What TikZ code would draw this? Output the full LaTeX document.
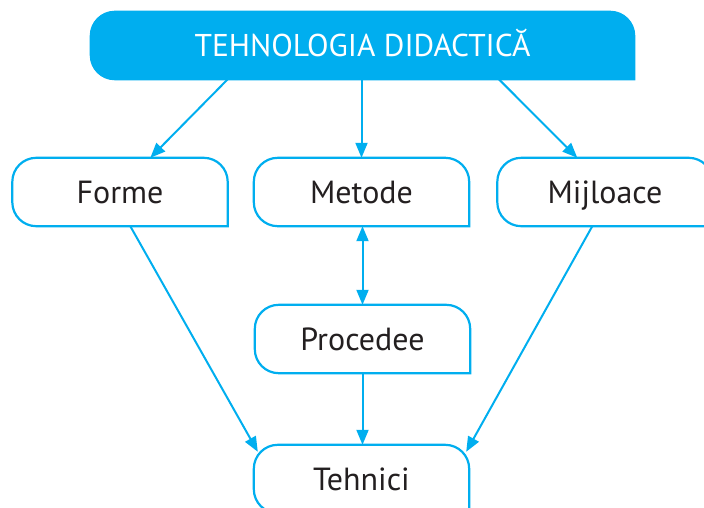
\documentclass[tikz,border=0pt]{standalone}
\usepackage{fontspec}
\setmainfont{PT Sans}
\usetikzlibrary{arrows.meta,calc}
\definecolor{cy}{HTML}{00AEEF}
\definecolor{tx}{HTML}{231F20}
\tikzset{
  box/.style={minimum width=215, minimum height=68, inner sep=0pt, text=tx, text height=22pt, text depth=0pt, font=\fontsize{32}{34}\selectfont},
  topbox/.style={minimum width=543, minimum height=67, inner sep=0pt, text=white, text height=22pt, text depth=0pt, font=\fontsize{31.5}{34}\selectfont},
  edge/.style={draw=cy, line width=2.2pt, rounded corners=24, line cap=rect},
  conn/.style={draw=cy, line width=2pt, -{Triangle[length=15pt,width=12pt]}},
  dconn/.style={draw=cy, line width=2pt, {Triangle[length=15pt,width=12pt]}-{Triangle[length=15pt,width=12pt]}}
}
\newcommand\outlinebox[2][]{\path[edge,#1] (#2.south east) -- (#2.north east) -- (#2.north west) -- (#2.south west) -- (#2.south east);}
\begin{document}
\begin{tikzpicture}[x=1pt,y=-1pt]
\useasboundingbox (0,0) rectangle (704,508);
\clip (0,0) rectangle (704,508);
\node[topbox] (top) at (362.5,45.5) {};
\path[edge, fill=cy] (top.south east) -- (top.north east) -- (top.north west) -- (top.south west) -- (top.south east);
\node[topbox] at (top) {TEHNOLOGIA DIDACTICĂ};
\node[box] (forme) at (120,192) {Forme};
\node[box] (metode) at (361.5,192) {Metode};
\node[box] (mij) at (605,192) {Mijloace};
\node[box] (proc) at (362.5,339) {Procedee};
\node[box] (teh) at (361.5,479) {Tehnici};
\foreach \n in {forme,metode,mij,proc,teh} {\outlinebox{\n}}
\draw[conn] ($(top.south west)+(137,0)$) -- ($(forme.north west)+(138,0)$);
\draw[conn] (top.south -| metode.north) -- (metode.north);
\draw[conn] ($(top.south west)+(408,0)$) -- ($(mij.north west)+(80,0)$);
\draw[dconn] (metode.south -| proc.north) -- (proc.north);
\draw[conn] (proc.south) -- (proc.south |- teh.north);
\draw[conn] ($(forme.south west)+(118,0)$) -- ($(teh.north west)+(4,7)$);
\draw[conn] ($(mij.south west)+(95,0)$) -- ($(teh.north east)+(-3,7)$);
\end{tikzpicture}
\end{document}
